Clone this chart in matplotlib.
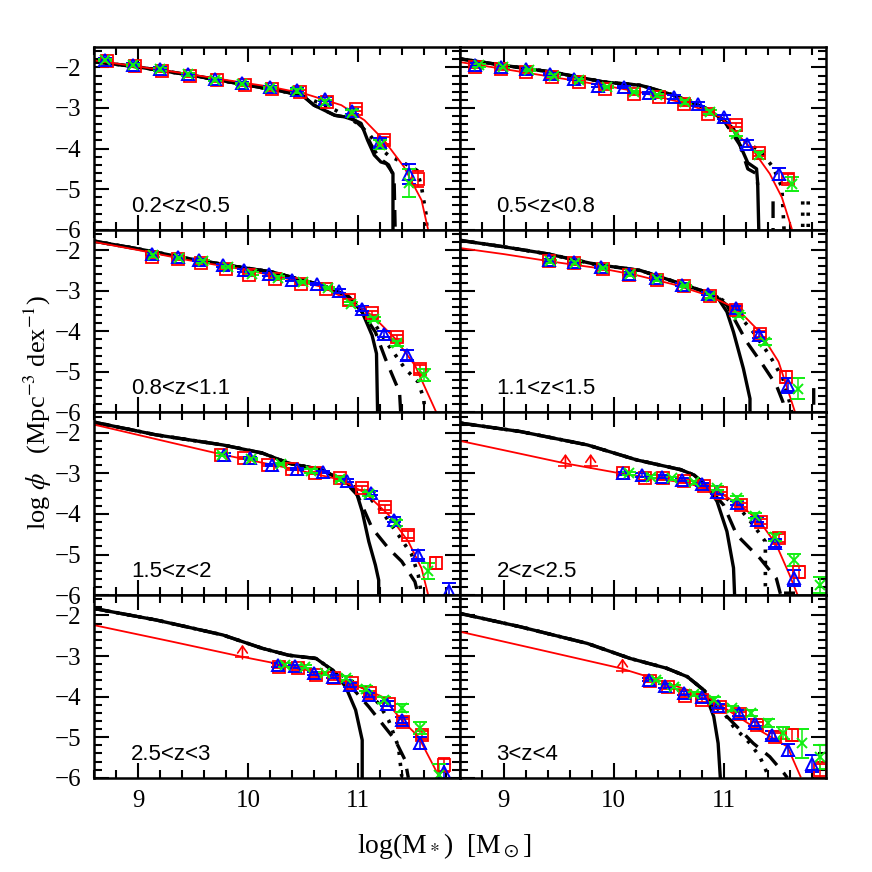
import numpy as np
import matplotlib
matplotlib.use('Agg')
import matplotlib.pyplot as plt

nan = np.nan

# panel labels (redshift bins), left-to-right, top-to-bottom
labels = ['0.2<z<0.5', '0.5<z<0.8', '0.8<z<1.1', '1.1<z<1.5',
          '1.5<z<2', '2<z<2.5', '2.5<z<3', '3<z<4']

# red line: fitted mass function
fit_x = [
    [8.6, 9.0, 9.45, 9.8, 10.21, 10.52, 10.85, 11.06, 11.24, 11.42, 11.58, 11.64],
    [8.6, 9.0, 9.45, 9.9, 10.24, 10.67, 10.97, 11.12, 11.27, 11.42, 11.53, 11.62],
    [8.6, 9.0, 9.46, 9.9, 10.22, 10.68, 10.92, 11.13, 11.34, 11.52, 11.72],
    [8.6, 9.0, 9.45, 9.9, 10.21, 10.55, 10.85, 11.12, 11.33, 11.5, 11.65],
    [8.6, 9.2, 9.77, 10.37, 10.85, 11.07, 11.28, 11.46, 11.58, 11.64],
    [8.6, 9.0, 9.55, 10.06, 10.67, 10.97, 11.15, 11.33, 11.48, 11.6, 11.68],
    [8.6, 9.3, 9.95, 10.25, 10.68, 10.98, 11.22, 11.4, 11.55, 11.74],
    [8.6, 9.3, 10.06, 10.36, 10.85, 11.27, 11.58, 11.7],
]
fit_y = [
    [-1.83, -1.98, -2.16, -2.31, -2.48, -2.65, -2.93, -3.3, -3.8, -4.45, -5.27, -6.0],
    [-1.87, -2.04, -2.24, -2.44, -2.61, -2.9, -3.22, -3.63, -4.05, -4.62, -5.2, -5.97],
    [-1.8, -2.0, -2.25, -2.45, -2.62, -2.91, -3.24, -3.61, -4.18, -4.84, -6.03],
    [-1.95, -2.1, -2.29, -2.46, -2.62, -2.85, -3.11, -3.44, -4.02, -4.75, -5.99],
    [-1.8, -2.18, -2.54, -2.87, -3.16, -3.49, -4.02, -4.68, -5.34, -5.99],
    [-2.2, -2.43, -2.75, -3.0, -3.24, -3.49, -3.78, -4.19, -4.76, -5.5, -6.04],
    [-2.24, -2.64, -3.02, -3.18, -3.43, -3.72, -4.0, -4.58, -4.98, -5.97],
    [-2.4, -2.83, -3.3, -3.55, -4.0, -4.74, -5.23, -5.97],
]

# black solid line: model
solid_x = [
    [8.6, 9.0, 9.5, 10.0, 10.3, 10.5, 10.6, 10.79, 10.88, 10.97, 11.03, 11.09, 11.15, 11.21, 11.26, 11.32, 11.32],
    [8.6, 9.0, 9.45, 9.91, 10.24, 10.36, 10.55, 10.85, 11.0, 11.09, 11.15, 11.22, 11.3, 11.31, 11.32],
    [8.6, 9.0, 9.46, 9.9, 10.22, 10.68, 10.92, 11.04, 11.13, 11.17, 11.18],
    [8.6, 9.0, 9.39, 9.85, 10.24, 10.42, 10.79, 10.94, 11.03, 11.09, 11.18, 11.24, 11.24],
    [8.6, 9.16, 9.77, 10.13, 10.37, 10.67, 10.88, 10.98, 11.04, 11.1, 11.16, 11.19, 11.19],
    [8.6, 9.15, 9.76, 10.21, 10.61, 10.73, 10.85, 10.94, 11.03, 11.09, 11.1],
    [8.6, 9.16, 9.77, 10.13, 10.37, 10.62, 10.77, 10.89, 10.98, 11.04, 11.04],
    [8.6, 9.15, 9.76, 10.15, 10.48, 10.67, 10.82, 10.91, 10.95, 10.97],
]
solid_y = [
    [-1.86, -1.99, -2.2, -2.44, -2.58, -2.7, -2.93, -3.18, -3.22, -3.3, -3.38, -3.8, -4.16, -4.33, -4.37, -4.61, -6.0],
    [-1.79, -1.95, -2.12, -2.36, -2.44, -2.53, -2.69, -3.02, -3.3, -3.51, -3.92, -4.35, -4.5, -4.85, -6.0],
    [-1.78, -1.97, -2.21, -2.41, -2.54, -2.87, -3.15, -3.53, -4.1, -4.55, -6.0],
    [-1.76, -1.92, -2.09, -2.36, -2.5, -2.66, -2.99, -3.15, -3.52, -4.02, -4.92, -5.66, -6.0],
    [-1.74, -2.05, -2.3, -2.5, -2.75, -2.91, -3.2, -3.41, -3.94, -4.68, -5.26, -5.63, -6.0],
    [-1.76, -1.97, -2.3, -2.67, -2.91, -3.04, -3.32, -3.69, -4.43, -5.33, -6.0],
    [-1.83, -2.11, -2.48, -2.81, -2.98, -3.06, -3.35, -3.76, -4.33, -5.07, -6.0],
    [-1.95, -2.28, -2.69, -3.06, -3.3, -3.51, -3.84, -4.49, -5.15, -6.0],
]

# dashed and dotted models follow the solid one up to a mass, then split off
dashed_from = [10.97, 10.85, 10.92, 10.94, 10.88, 10.85, 10.77, 10.82]
dashed_x = [
    [11.05, 11.12, 11.2, 11.28, 11.33, 11.34],
    [11.0, 11.15, 11.22, 11.3, 11.31, nan, 11.45, 11.45],
    [11.04, 11.16, 11.25, 11.34, 11.38, 11.39],
    [11.03, 11.21, 11.36, 11.48, 11.54, 11.56, nan, 11.82, 11.82],
    [11.0, 11.13, 11.28, 11.4, 11.52, 11.55],
    [11.0, 11.12, 11.24, 11.33, 11.48, 11.52, nan, 11.55, 11.65],
    [10.98, 11.1, 11.22, 11.34, 11.43, 11.46],
    [10.88, 11.03, 11.15, 11.27, 11.42, 11.55, 11.58],
]
dashed_y = [
    [-3.5, -3.9, -4.25, -4.4, -4.7, -6.0],
    [-3.3, -3.92, -4.5, -4.62, -4.9, nan, -5.3, -6.0],
    [-3.53, -4.02, -4.67, -5.25, -5.5, -6.0],
    [-3.36, -4.26, -4.84, -5.33, -5.74, -6.0, nan, -5.4, -5.85],
    [-3.55, -4.35, -4.85, -5.17, -5.67, -6.0],
    [-3.78, -4.52, -4.85, -5.09, -5.59, -6.0, nan, -5.95, -5.95],
    [-3.88, -4.25, -4.66, -5.07, -5.56, -6.0],
    [-4.16, -4.49, -4.82, -5.15, -5.48, -5.89, -6.0],
]
dotted_from = [10.5, 10.85, 10.92, 10.94, 10.88, 10.85, 10.77, 10.82]
dotted_x = [
    [10.8, 10.98, 11.1, 11.19, 11.28, 11.43, 11.54, 11.58, 11.62, 11.63],
    [11.03, 11.18, 11.33, 11.45, 11.53, 11.55, nan, 11.72, 11.72, nan, 11.77, 11.77],
    [11.04, 11.13, 11.28, 11.43, 11.55, 11.6, 11.61],
    [11.05, 11.27, 11.42, 11.54, 11.6, 11.62],
    [11.07, 11.22, 11.37, 11.49, 11.55, 11.58],
    [11.12, 11.27, 11.38, 11.38],
    [11.04, 11.19, 11.28, 11.37, 11.4],
    [10.95, 11.09, 11.24, 11.33, 11.41],
]
dotted_y = [
    [-3.06, -3.35, -3.63, -3.96, -4.17, -4.37, -4.54, -4.95, -5.6, -6.0],
    [-3.43, -3.8, -4.05, -4.46, -4.95, -6.0, nan, -5.3, -6.0, nan, -5.3, -6.0],
    [-3.45, -3.72, -4.35, -4.92, -5.25, -5.66, -6.0],
    [-3.33, -4.02, -4.6, -5.17, -5.74, -6.0],
    [-3.49, -3.94, -4.52, -5.0, -5.5, -6.0],
    [-3.78, -4.27, -4.68, -6.0],
    [-3.76, -4.17, -4.58, -5.24, -5.97],
    [-4.2, -4.74, -5.15, -5.48, -5.97],
]

# red squares
red_x = [
    [8.72, 8.97, 9.22, 9.47, 9.72, 9.97, 10.22, 10.47, 10.72, 10.98, 11.24, 11.55],
    [8.74, 8.97, 9.2, 9.44, 9.68, 9.92, 10.18, 10.41, 10.64, 10.86, 11.11, 11.32, 11.59],
    [9.13, 9.36, 9.57, 9.8, 10.01, 10.25, 10.48, 10.71, 10.92, 11.13, 11.36, 11.57],
    [9.41, 9.64, 9.9, 10.14, 10.39, 10.64, 10.88, 11.11, 11.33, 11.57],
    [9.75, 9.96, 10.18, 10.4, 10.61, 10.84, 11.04, 11.25, 11.46, 11.71],
    [10.08, 10.28, 10.45, 10.64, 10.82, 10.98, 11.16, 11.34, 11.5, 11.69],
    [10.28, 10.46, 10.62, 10.78, 10.95, 11.11, 11.28, 11.41, 11.58, 11.78],
    [10.33, 10.49, 10.65, 10.8, 10.97, 11.15, 11.3, 11.47, 11.62, 11.88],
]
red_y = [
    [-1.84, -1.96, -2.08, -2.2, -2.32, -2.44, -2.54, -2.6, -2.85, -3.03, -3.8, -4.74],
    [-1.99, -2.03, -2.12, -2.24, -2.36, -2.53, -2.65, -2.73, -2.9, -3.14, -3.43, -4.12, -4.74],
    [-2.17, -2.21, -2.31, -2.46, -2.62, -2.71, -2.83, -2.95, -3.24, -3.54, -4.14, -4.92],
    [-2.28, -2.33, -2.47, -2.62, -2.74, -2.89, -3.13, -3.48, -4.06, -5.12],
    [-2.54, -2.62, -2.79, -2.89, -2.99, -3.11, -3.36, -3.84, -4.51, -5.21],
    [-3.0, -3.12, -3.12, -3.2, -3.32, -3.49, -3.78, -4.19, -4.6, -5.42],
    [-3.26, -3.3, -3.47, -3.55, -3.67, -3.92, -4.17, -4.62, -4.94, -5.68],
    [-3.61, -3.77, -3.98, -4.08, -4.25, -4.43, -4.7, -4.99, -4.95, -5.81],
]
red_err = [
    [0.03, 0.03, 0.03, 0.03, 0.03, 0.03, 0.03, 0.04, 0.04, 0.05, 0.08, 0.2],
    [0.03, 0.03, 0.03, 0.03, 0.03, 0.03, 0.03, 0.03, 0.04, 0.04, 0.05, 0.07, 0.12],
    [0.03, 0.03, 0.03, 0.03, 0.03, 0.03, 0.03, 0.03, 0.04, 0.05, 0.06, 0.1],
    [0.03, 0.03, 0.03, 0.03, 0.03, 0.03, 0.04, 0.05, 0.07, 0.15],
    [0.03, 0.03, 0.03, 0.03, 0.03, 0.04, 0.04, 0.06, 0.08, 0.15],
    [0.04, 0.04, 0.04, 0.04, 0.04, 0.04, 0.05, 0.06, 0.1, 0.15],
    [0.04, 0.04, 0.04, 0.04, 0.04, 0.05, 0.06, 0.08, 0.1, 0.18],
    [0.04, 0.04, 0.04, 0.05, 0.05, 0.06, 0.08, 0.1, 0.15, 0.2],
]

# blue triangles
blue_x = [
    [8.7, 8.95, 9.2, 9.45, 9.7, 9.95, 10.2, 10.45, 10.7, 10.95, 11.2, 11.47],
    [8.74, 8.97, 9.2, 9.42, 9.64, 9.86, 10.09, 10.32, 10.55, 10.77, 11.0, 11.21, 11.5],
    [9.13, 9.36, 9.55, 9.77, 9.96, 10.19, 10.4, 10.63, 10.83, 11.04, 11.24, 11.45],
    [9.41, 9.64, 9.88, 10.14, 10.38, 10.62, 10.86, 11.11, 11.32, 11.59],
    [9.78, 10.02, 10.22, 10.45, 10.68, 10.9, 11.12, 11.33, 11.55, 11.83],
    [10.08, 10.26, 10.44, 10.62, 10.8, 10.94, 11.12, 11.3, 11.47, 11.64],
    [10.27, 10.43, 10.6, 10.77, 10.93, 11.1, 11.27, 11.4, 11.57, 11.78],
    [10.32, 10.47, 10.64, 10.8, 10.95, 11.14, 11.29, 11.44, 11.59, 11.8],
]
blue_y = [
    [-1.81, -1.93, -2.03, -2.16, -2.29, -2.39, -2.49, -2.56, -2.78, -3.08, -3.85, -4.62],
    [-1.93, -1.98, -2.03, -2.16, -2.28, -2.45, -2.49, -2.63, -2.73, -2.9, -3.22, -3.88, -4.62],
    [-2.1, -2.17, -2.25, -2.38, -2.5, -2.6, -2.73, -2.83, -3.01, -3.44, -4.06, -4.59],
    [-2.25, -2.29, -2.42, -2.58, -2.7, -2.85, -3.07, -3.43, -4.1, -5.33],
    [-2.54, -2.62, -2.8, -2.89, -2.96, -3.18, -3.48, -4.14, -5.0, -5.9],
    [-3.0, -3.04, -3.08, -3.16, -3.27, -3.45, -3.73, -4.14, -4.72, -5.58],
    [-3.22, -3.25, -3.43, -3.51, -3.72, -3.96, -4.17, -4.58, -5.15, -5.85],
    [-3.58, -3.74, -3.92, -4.0, -4.23, -4.4, -4.64, -4.95, -5.32, -5.65],
]
blue_err = [
    [0.03, 0.03, 0.03, 0.03, 0.03, 0.03, 0.03, 0.04, 0.05, 0.06, 0.1, 0.25],
    [0.03, 0.03, 0.03, 0.03, 0.03, 0.03, 0.03, 0.03, 0.04, 0.04, 0.05, 0.08, 0.15],
    [0.03, 0.03, 0.03, 0.03, 0.03, 0.03, 0.03, 0.03, 0.04, 0.05, 0.07, 0.12],
    [0.03, 0.03, 0.03, 0.03, 0.03, 0.03, 0.04, 0.05, 0.07, 0.18],
    [0.03, 0.03, 0.03, 0.03, 0.03, 0.04, 0.05, 0.07, 0.1, 0.2],
    [0.04, 0.04, 0.04, 0.04, 0.04, 0.05, 0.05, 0.07, 0.1, 0.2],
    [0.04, 0.04, 0.04, 0.04, 0.05, 0.05, 0.07, 0.08, 0.15, 0.2],
    [0.04, 0.04, 0.05, 0.05, 0.06, 0.07, 0.08, 0.1, 0.15, 0.2],
]

# green crosses
green_x = [
    [8.7, 8.95, 9.2, 9.45, 9.7, 9.95, 10.2, 10.45, 10.7, 10.95, 11.2, 11.47],
    [8.77, 8.99, 9.23, 9.46, 9.68, 9.94, 10.18, 10.39, 10.65, 10.88, 11.11, 11.32, 11.62],
    [9.14, 9.37, 9.59, 9.82, 10.04, 10.27, 10.5, 10.73, 10.94, 11.15, 11.36, 11.6],
    [9.42, 9.65, 9.9, 10.15, 10.39, 10.65, 10.88, 11.14, 11.38, 11.68],
    [9.76, 10.03, 10.3, 10.57, 10.84, 11.1, 11.35, 11.64],
    [10.14, 10.34, 10.53, 10.73, 10.94, 11.12, 11.29, 11.47, 11.64, 11.88],
    [10.34, 10.52, 10.7, 10.89, 11.07, 11.24, 11.4, 11.57, 11.74],
    [10.38, 10.55, 10.73, 10.91, 11.08, 11.25, 11.4, 11.54, 11.71, 11.88],
]
green_y = [
    [-1.82, -1.94, -2.05, -2.17, -2.3, -2.41, -2.51, -2.58, -2.85, -3.12, -3.9, -4.85],
    [-1.95, -1.98, -2.06, -2.2, -2.32, -2.49, -2.61, -2.69, -2.85, -3.1, -3.63, -4.17, -4.87],
    [-2.13, -2.19, -2.28, -2.42, -2.58, -2.68, -2.79, -2.93, -3.32, -3.69, -4.3, -5.08],
    [-2.28, -2.31, -2.44, -2.6, -2.72, -2.88, -3.13, -3.61, -4.26, -5.41],
    [-2.54, -2.64, -2.77, -2.94, -3.13, -3.51, -4.22, -5.41],
    [-3.0, -3.08, -3.12, -3.22, -3.36, -3.61, -4.04, -4.56, -5.13, -5.75],
    [-3.22, -3.26, -3.43, -3.55, -3.8, -4.09, -4.29, -4.78, -5.92],
    [-3.58, -3.76, -3.94, -4.08, -4.29, -4.4, -4.66, -4.9, -5.15, -5.48],
]
green_err = [
    [0.03, 0.03, 0.03, 0.03, 0.03, 0.03, 0.03, 0.04, 0.05, 0.06, 0.1, 0.35],
    [0.03, 0.03, 0.03, 0.03, 0.03, 0.03, 0.03, 0.03, 0.04, 0.04, 0.06, 0.08, 0.18],
    [0.03, 0.03, 0.03, 0.03, 0.03, 0.03, 0.03, 0.03, 0.04, 0.05, 0.07, 0.15],
    [0.03, 0.03, 0.03, 0.03, 0.03, 0.03, 0.04, 0.05, 0.08, 0.25],
    [0.03, 0.03, 0.03, 0.04, 0.05, 0.06, 0.08, 0.2],
    [0.04, 0.04, 0.04, 0.04, 0.05, 0.05, 0.07, 0.1, 0.15, 0.2],
    [0.04, 0.04, 0.04, 0.05, 0.06, 0.07, 0.1, 0.15, 0.25],
    [0.04, 0.05, 0.05, 0.06, 0.07, 0.08, 0.1, 0.15, 0.35, 0.3],
]

# red lower limits (arrows)
lim_x = [[], [], [], [], [], [9.56, 9.79], [9.95], [10.08]]
lim_y = [[], [], [], [], [], [-2.82, -2.82], [-3.02], [-3.36]]


def branch(sx, sy, start, tx, ty):
    # model curve = solid curve up to `start`, then its own tail
    keep = [k for k in range(len(sx)) if sx[k] <= start]
    return [sx[k] for k in keep] + tx, [sy[k] for k in keep] + ty


plt.rcParams['font.family'] = 'Liberation Serif'
plt.rcParams['mathtext.fontset'] = 'stix'

fig, axes = plt.subplots(4, 2, figsize=(8.72, 8.72), dpi=100, sharex=True, sharey=True,
                         gridspec_kw=dict(hspace=0, wspace=0, left=0.108, right=0.947,
                                          top=0.946, bottom=0.108))

for i, ax in enumerate(axes.flat):
    dx, dy = branch(solid_x[i], solid_y[i], dashed_from[i], dashed_x[i], dashed_y[i])
    px, py = branch(solid_x[i], solid_y[i], dotted_from[i], dotted_x[i], dotted_y[i])
    ax.plot(px, py, color='black', lw=2.6, dashes=(0.9, 2.2))
    ax.plot(dx, dy, color='black', lw=2.4, dashes=(5, 3))
    ax.plot(solid_x[i], solid_y[i], color='black', lw=2.4)
    ax.plot(fit_x[i], fit_y[i], color='red', lw=1.3)

    ax.errorbar(red_x[i], red_y[i], yerr=red_err[i], fmt='s', mfc='none', mec='red',
                ecolor='red', ms=8, mew=1.3, elinewidth=1.1, capsize=4.5, capthick=1.2)
    ax.errorbar(blue_x[i], blue_y[i], yerr=blue_err[i], fmt='^', mfc='none', mec='blue',
                ecolor='blue', ms=8.5, mew=1.4, elinewidth=1.1, capsize=5, capthick=1.4)
    ax.errorbar(green_x[i], green_y[i], yerr=green_err[i], fmt='x', color='#11ee11',
                ms=7.5, mew=1.4, elinewidth=1.1, capsize=5, capthick=1.4)
    for lx, ly in zip(lim_x[i], lim_y[i]):
        ax.plot(lx, ly, marker='_', color='red', ms=10, mew=1.2)
        ax.annotate('', xy=(lx, ly + 0.3), xytext=(lx, ly - 0.05),
                    arrowprops=dict(arrowstyle='->,head_length=0.5,head_width=0.35',
                                    color='red', lw=1.2, shrinkA=0, shrinkB=0))

    ax.text(0.1, 0.1, labels[i], transform=ax.transAxes, fontsize=16,
            family='Liberation Sans')

    ax.set_xlim(8.6, 11.93)
    ax.set_ylim(-6, -1.5)
    ax.set_xticks([9, 10, 11])
    ax.set_xticks(np.arange(8.6, 11.95, 0.2), minor=True)
    ax.set_yticks([-6, -5, -4, -3, -2])
    ax.set_yticks(np.arange(-6, -1.45, 0.2), minor=True)
    ax.tick_params(which='both', direction='in', top=True, right=True, labelsize=18,
                   width=1.5, pad=9)
    ax.tick_params(which='major', length=11)
    ax.tick_params(which='minor', length=6)
    for sp in ax.spines.values():
        sp.set_linewidth(1.8)

fig.text(0.51, 0.022, r'log(M$_*$)  [M$_\odot$]', ha='center', fontsize=20)
fig.text(0.025, 0.527, r'log $\phi$   (Mpc$^{-3}$ dex$^{-1}$)', va='center', rotation=90,
         fontsize=19)

fig.savefig('out.png', dpi=100)
